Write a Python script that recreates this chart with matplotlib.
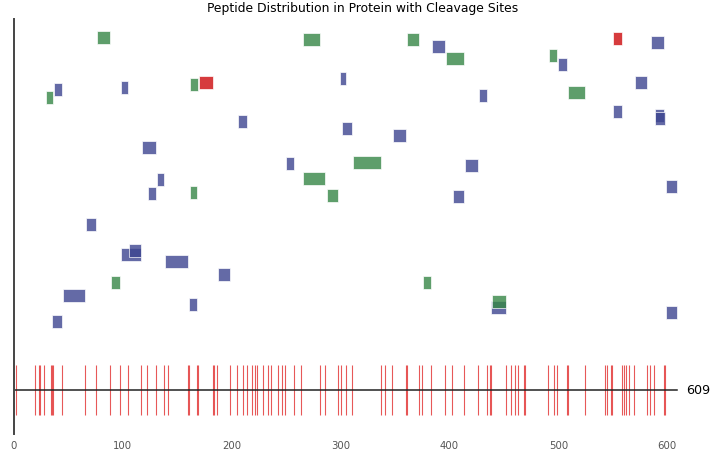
#!/usr/bin/env python3

import matplotlib as mpl
import matplotlib.pyplot as plt
from matplotlib.patches import Rectangle

protein_length = 609

cleavage_sites = [2, 19, 23, 24, 28, 34, 35, 36, 44, 65, 75, 88, 97, 105, 117, 122, 130, 138, 141,
                  160, 161, 168, 169, 183, 184, 186, 198, 205, 210, 214, 219, 221, 223, 229, 233,
                  236, 242, 246, 249, 257, 264, 281, 286, 298, 300, 305, 310, 337, 341, 347, 360,
                  361, 372, 375, 383, 396, 402, 413, 426, 434, 437, 438, 452, 456, 460, 463, 468,
                  469, 490, 496, 499, 508, 509, 524, 543, 545, 548, 549, 558, 560, 562, 565, 569,
                  581, 584, 588, 597, 598]

# blue peptides
blue_start = [37, 98, 206, 384, 299, 427, 301, 348, 585, 500, 570, 550, 589, 589, 118, 250,
              131, 123, 66, 98, 106, 139, 187, 45, 161, 35, 414, 403, 599, 438, 599]
blue_end   = [44, 105, 214, 396, 305, 434, 310, 360, 597, 508, 581, 558, 597, 598, 130, 257,
              138, 130, 75, 117, 117, 160, 198, 65, 168, 44, 426, 413, 609, 452, 609]
blue_level = [11.54, 11.64, 10.31, 13.23, 11.97, 11.31, 10.04, 9.78, 13.35, 12.51, 11.82, 10.70,
              10.55, 10.45, 9.32, 8.73, 8.08, 7.57, 6.36, 5.22, 5.36, 4.96, 4.46, 3.62, 3.28,
              2.63, 8.63, 7.46, 7.83, 3.19, 3.00]

# green peptides
green_start = [76, 29, 162, 265, 361, 397, 491, 509, 311, 265, 287, 162, 89, 376, 439]
green_end   = [88, 36, 169, 281, 372, 413, 499, 524, 337, 286, 298, 168, 97, 383, 452]
green_level = [13.54, 11.24, 11.75, 13.49, 13.47, 12.75, 12.85, 11.45, 8.76, 8.12, 7.47, 7.59,
               4.13, 4.13, 3.40]

# red peptides
red_start = [170, 550]
red_end   = [183, 558]
red_level = [11.82, 13.51]

W, H = 727, 460
fig = plt.figure(figsize=(W / 100, H / 100), dpi=100)
ax = fig.add_axes([14 / W, 25 / H, 697 / W, 415 / H])

px_per_unit = 26.0
ax.set_xlim(0, 697 / 1.0889)
ax.set_ylim(-44 / px_per_unit, 371 / px_per_unit)

rect_h = 0.5

def add_peptides(starts, ends, levels, color):
    for s, e, y in zip(starts, ends, levels):
        ax.add_patch(Rectangle((s, y - rect_h / 2), e - s, rect_h, facecolor=color,
                               edgecolor='white', linewidth=0.6, alpha=0.8))

add_peptides(blue_start, blue_end, blue_level, '#3d4590')
add_peptides(green_start, green_end, green_level, '#368646')
add_peptides(red_start, red_end, red_level, '#cc0a0c')

ax.vlines(cleavage_sites, -0.97, 0.97, color='#e02020', alpha=0.75, lw=0.8)
ax.plot([0, protein_length], [0, 0], color='#222222', lw=1.1)
ax.text(617, 0, str(protein_length), va='center', ha='left', fontsize=9.2, color='black')

for side in ['top', 'right', 'bottom']:
    ax.spines[side].set_visible(False)
ax.spines['left'].set_color('#444444')
ax.spines['left'].set_linewidth(1.4)

ax.set_xticks([0, 100, 200, 300, 400, 500, 600])
ax.tick_params(axis='x', length=0, pad=4, labelsize=7.3, labelcolor='#555555')
ax.set_yticks([])

ax.set_title('Peptide Distribution in Protein with Cleavage Sites', fontsize=8.9, pad=6)

fig.savefig('out.png', dpi=100)
